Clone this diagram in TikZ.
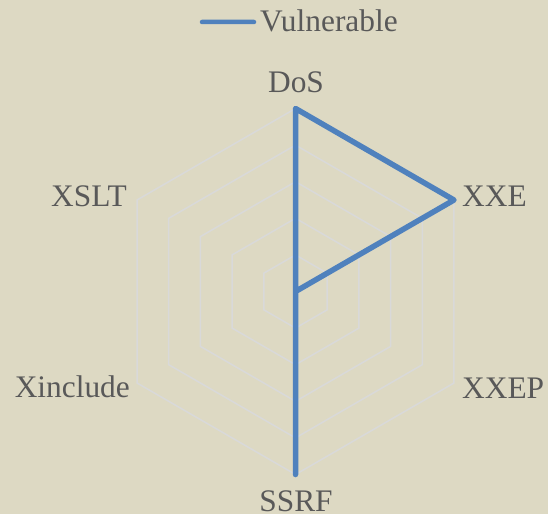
\documentclass[tikz,border=0pt]{standalone}
\usepackage{fontspec}
\setmainfont{Liberation Serif}
\definecolor{bgtan}{HTML}{DDD9C3}
\definecolor{gridgray}{HTML}{D9D9D9}
\definecolor{txtgray}{HTML}{595959}
\definecolor{vulnblue}{HTML}{4F81BD}
\begin{document}
\begin{tikzpicture}[x=1bp,y=-1bp,
		every node/.style={text=txtgray,font=\fontsize{31.5}{31.5}\selectfont,inner sep=0},
		gridline/.style={draw=gridgray,line width=1.5bp},
		vuln/.style={draw=vulnblue,line width=5.5bp,line join=round}]
	\fill[bgtan] (0,0) rectangle (548,514);
	\coordinate (c) at (295.5,291.5);
	% axis ends, clockwise from DoS
	\foreach \i in {0,...,5}
		\path (c) ++(-90+60*\i:183) coordinate (a\i);
	% grid rings
	\foreach \k in {1,...,5}
		\draw[gridline] ([shift={(-90:36.6*\k)}]c)
			\foreach \i in {1,...,5} { -- ([shift={(-90+60*\i:36.6*\k)}]c) } -- cycle;
	% legend
	\node (leg) [anchor=base west] at (260,32) {Vulnerable};
	\coordinate (legs) at (202,22);
	\draw[vuln,line width=4.5bp,line cap=round] (legs) -- ([xshift=-6bp,yshift=10bp]leg.base west);
	% axis labels
	\node (dos) [anchor=base] at (296,93) {DoS};
	\node (xxe) [anchor=base west] at (462,207) {XXE};
	\node (xxep) [anchor=base west] at (462,398) {XXEP};
	\node (ssrf) [anchor=base] at (296,511) {SSRF};
	\node (xinc) [anchor=base east] at (130,397) {Xinclude};
	\node (xslt) [anchor=base east] at (127,207) {XSLT};
	% data
	\draw[vuln] (a0) -- (a1) -- (c) -- (a3) -- (c) -- cycle;
\end{tikzpicture}
\end{document}
